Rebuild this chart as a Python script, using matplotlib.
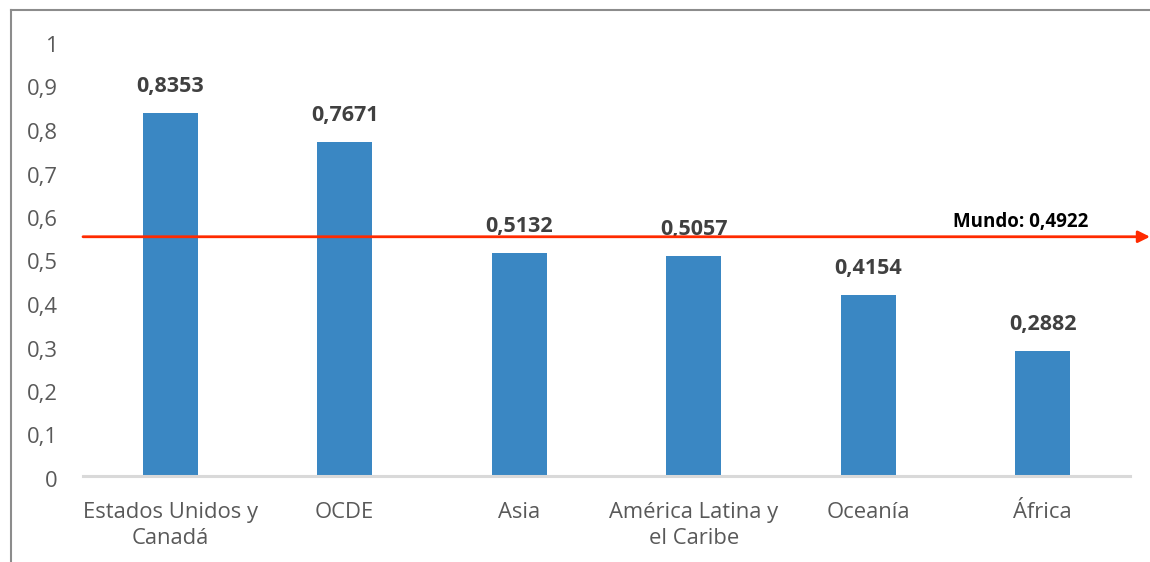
import matplotlib
matplotlib.use("Agg")
import matplotlib.pyplot as plt
from matplotlib.lines import Line2D
import matplotlib.transforms as mtransforms

categories = ["Estados Unidos y\nCanadá", "OCDE", "Asia", "América Latina y\nel Caribe", "Oceanía", "África"]
values = [0.8353, 0.7671, 0.5132, 0.5057, 0.4154, 0.2882]
mundo_value = 0.4922
mundo_line_level = 0.55  # position at which the reference line is drawn
yticks = [0, 0.1, 0.2, 0.3, 0.4, 0.5, 0.6, 0.7, 0.8, 0.9, 1.0]

plt.rcParams['font.family'] = ['Open Sans', 'DejaVu Sans']

def fmt(v, nd=4):
    return f"{v:.{nd}f}".replace(".", ",")

def tick_fmt(v):
    s = f"{v:.1f}"
    if s.endswith(".0"):
        s = s[:-2]
    return s.replace(".", ",")

fig = plt.figure(figsize=(11.5, 5.62), dpi=100)
ax = fig.add_axes([83/1150, 1 - 476/562, (1130 - 83)/1150, (476 - 41)/562])

x = list(range(len(categories)))
ax.bar(x, values, width=0.315, color="#3A87C3", zorder=2)

ax.set_xlim(-0.5, len(categories) - 0.5)
ax.set_ylim(0, 1)
ax.set_yticks(yticks)
ax.set_yticklabels([tick_fmt(t) for t in yticks], fontsize=15.8, color="#595959")
ax.set_xticks(x)
ax.set_xticklabels(categories, fontsize=15.8, color="#595959", linespacing=1.3)
ax.tick_params(axis='both', length=0)
ax.tick_params(axis='y', pad=18)
ax.tick_params(axis='x', pad=19)
shift = mtransforms.ScaledTranslation(0, -3/100, fig.dpi_scale_trans)
for lbl in ax.get_yticklabels():
    lbl.set_transform(lbl.get_transform() + shift)
for s in ["top", "right", "left"]:
    ax.spines[s].set_visible(False)
ax.spines["bottom"].set_color("#D9D9D9")
ax.spines["bottom"].set_linewidth(2.2)

for xi, v in zip(x, values):
    ax.annotate(fmt(v), (xi, v), xytext=(0, 16), textcoords="offset pixels",
                ha="center", va="bottom", fontsize=15.5, fontweight="bold", color="#404040")

blend = mtransforms.blended_transform_factory(fig.transFigure, ax.transData)

# world reference arrow
ax.annotate("", xy=(1150/1150, mundo_line_level), xycoords=blend,
            xytext=(-0.5, mundo_line_level), textcoords="data",
            arrowprops=dict(arrowstyle="-|>,head_length=0.7,head_width=0.35", color="#FF2A00", lw=2,
                            shrinkA=0, shrinkB=0),
            annotation_clip=False)

ax.text(1021/1150, mundo_line_level + 0.012, f"Mundo: {fmt(mundo_value)}",
        transform=blend, ha="center", va="bottom", fontsize=13.5, fontweight="bold", color="black")

# outer border (left and top)
fig.add_artist(Line2D([11/1150, 11/1150], [0, 1 - 10/562], transform=fig.transFigure,
                      color="#8C8C8C", lw=1.5))
fig.add_artist(Line2D([11/1150, 1], [1 - 10/562, 1 - 10/562], transform=fig.transFigure,
                      color="#8C8C8C", lw=1.5))

fig.savefig("out.png", dpi=100)
